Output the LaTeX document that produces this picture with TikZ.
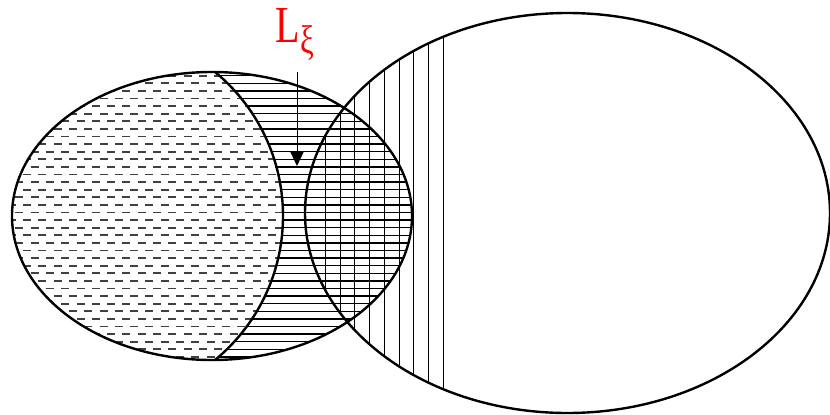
\documentclass[tikz,border=0pt]{standalone}
\usepackage{fontspec}
\setmainfont{Liberation Serif}
\usetikzlibrary{arrows.meta}
\definecolor{lred}{RGB}{255,0,0}
\begin{document}
\begin{tikzpicture}[x=1pt,y=-1pt,
  rim/.style={line width=2.4pt},
  hline/.style={line width=1.5pt},
  vline/.style={line width=1.1pt},
  dline/.style={line width=1.8pt, black!75, dash pattern=on 8pt off 7.3pt}]
\useasboundingbox (0,0) rectangle (830,415);
% dashed region: left ellipse inside the arc circle
\begin{scope}
  \clip (212,216) ellipse [x radius=200pt, y radius=144pt];
  \clip (96.5,216) circle [radius=186.5pt];
  \foreach \k in {0,...,37} {
    \pgfmathsetmacro\yy{75.7+7.6*\k}
    \pgfmathsetmacro\ph{mod(\k,2)*7.6}
    \draw[dline, dash phase=\ph pt] (0,\yy) -- (420,\yy);
  }
\end{scope}
% solid horizontal lines: left ellipse outside the arc circle
\begin{scope}
  \clip (212,216) ellipse [x radius=200pt, y radius=144pt];
  \begin{scope}[even odd rule]
    \clip (0,0) rectangle (830,415) (96.5,216) circle [radius=186.5pt];
    \foreach \k in {0,...,37} {
      \pgfmathsetmacro\yy{75.7+7.6*\k}
      \draw[hline] (200,\yy) -- (420,\yy);
    }
  \end{scope}
\end{scope}
% vertical lines in the right ellipse
\begin{scope}
  \clip (567.5,213) ellipse [x radius=262.5pt, y radius=200pt];
  \foreach \k in {0,...,8} {
    \pgfmathsetmacro\xx{325.5+14.72*\k}
    \draw[vline] (\xx,0) -- (\xx,415);
  }
\end{scope}
% arc dividing the left ellipse
\begin{scope}
  \clip (212,216) ellipse [x radius=200pt, y radius=144pt];
  \draw[rim] (96.5,216) circle [radius=186.5pt];
\end{scope}
% outlines
\draw[rim] (212,216) ellipse [x radius=200pt, y radius=144pt];
\draw[rim] (567.5,213) ellipse [x radius=262.5pt, y radius=200pt];
% label and arrow
\node[text=lred, inner sep=0pt, anchor=base west] (lab) at (275.5,42.5)
  {\scalebox{0.77}[1]{\fontsize{52}{52}\selectfont L\raisebox{-10.5pt}{\fontsize{40}{40}\selectfont ξ}}};
\coordinate (tail) at (297,72);
\coordinate (tip) at (297,166);
\draw[line width=1pt, -{Triangle[length=14pt,width=13pt]}] (tail) -- (tip);
\end{tikzpicture}
\end{document}
